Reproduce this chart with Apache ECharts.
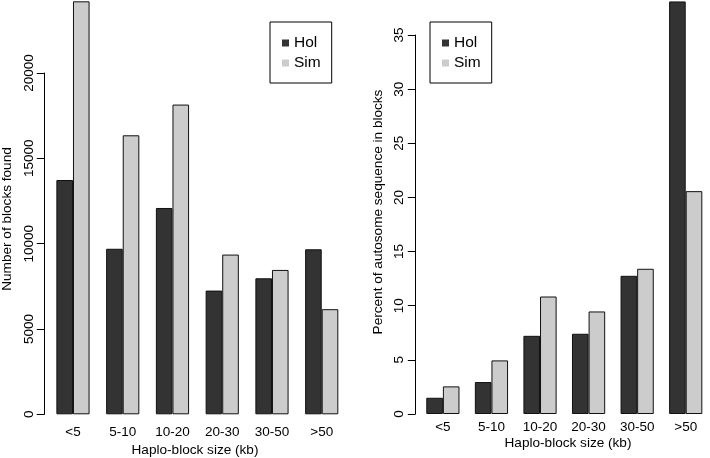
<!DOCTYPE html>
<html>
<head>
<meta charset="utf-8">
<script src="https://cdn.jsdelivr.net/npm/echarts@6/dist/echarts.min.js"></script>
<style>html,body{margin:0;padding:0;background:#fff;}#c{width:710px;height:458px;}</style>
</head>
<body>
<div id="c"></div>
<script>
var categories = ['<5', '5-10', '10-20', '20-30', '30-50', '>50'];
var holCount = [13730, 9700, 12090, 7250, 7970, 9670];
var simCount = [24200, 16350, 18150, 9360, 8460, 6160];
var holPct = [1.50, 2.95, 7.22, 7.41, 12.76, 38.1];
var simPct = [2.55, 4.95, 10.85, 9.47, 13.41, 20.58];
var countTicks = { min: 0, max: 20000, interval: 5000 };
var pctTicks = { min: 0, max: 35, interval: 5 };

var FONT = 'Liberation Sans';
var HOL = '#333333', SIM = '#cccccc', EDGE = '#111111';

function yAxisCfg(gi, ticks, offset, margin) {
  return {
    type: 'value', gridIndex: gi, min: ticks.min, max: ticks.max, interval: ticks.interval,
    offset: offset,
    axisLine: { show: true, lineStyle: { color: '#000', width: 1 } },
    axisTick: { show: true, length: 7.5, lineStyle: { color: '#000', width: 1 } },
    axisLabel: { rotate: 90, margin: margin, color: '#000', fontFamily: FONT, fontSize: 13.5,
      formatter: function (v) { return String(v); } },
    splitLine: { show: false }
  };
}
function xAxisCfg(gi, margin) {
  return {
    type: 'category', gridIndex: gi, data: categories,
    axisLine: { show: false }, axisTick: { show: false },
    axisLabel: { margin: margin, color: '#000', fontFamily: FONT, fontSize: 13.5, interval: 0 }
  };
}
function bar(name, data, color, gi) {
  return {
    name: name, type: 'bar', data: data, xAxisIndex: gi, yAxisIndex: gi,
    barWidth: 16.6, barGap: '0%', clip: false, silent: true, animation: false,
    itemStyle: { color: color, borderColor: EDGE, borderWidth: 1 }
  };
}
function legendCfg(left) {
  return {
    data: ['Hol', 'Sim'], orient: 'vertical', left: left, top: 22,
    itemWidth: 7, itemHeight: 7, itemGap: 4, itemTextGap: 11,
    padding: [13, 11, 12, 12], borderColor: '#000', borderWidth: 1,
    icon: 'rect', selectedMode: false,
    itemStyle: { borderWidth: 0 },
    textStyle: { fontFamily: FONT, fontSize: 15.5, color: '#000' }
  };
}

var chart = echarts.init(document.getElementById('c'), null, { renderer: 'canvas' });
chart.setOption({
  animation: false,
  backgroundColor: '#fff',
  grid: [
    { left: 48.1, right: 363.4, top: 73, bottom: 43.7 },
    { left: 418.6, right: -7.2, top: 35, bottom: 44 }
  ],
  xAxis: [xAxisCfg(0, 10.5), xAxisCfg(1, 6.5)],
  yAxis: [yAxisCfg(0, countTicks, 3.8, 8), yAxisCfg(1, pctTicks, 3.3, 9)],
  legend: [legendCfg(270), legendCfg(430)],
  series: [
    bar('Hol', holCount, HOL, 0),
    bar('Sim', simCount, SIM, 0),
    bar('Hol', holPct, HOL, 1),
    bar('Sim', simPct, SIM, 1)
  ],
  graphic: [
    { type: 'text', x: 7, y: 219, rotation: Math.PI / 2,
      style: { text: 'Number of blocks found', fontFamily: FONT, fontSize: 13.6, fill: '#000', textAlign: 'center', textVerticalAlign: 'middle' } },
    { type: 'text', x: 195, y: 450.5,
      style: { text: 'Haplo-block size (kb)', fontFamily: FONT, fontSize: 13.6, fill: '#000', textAlign: 'center', textVerticalAlign: 'middle' } },
    { type: 'text', x: 378, y: 212, rotation: Math.PI / 2,
      style: { text: 'Percent of autosome sequence in blocks', fontFamily: FONT, fontSize: 13.6, fill: '#000', textAlign: 'center', textVerticalAlign: 'middle' } },
    { type: 'text', x: 568, y: 443.5,
      style: { text: 'Haplo-block size (kb)', fontFamily: FONT, fontSize: 13.6, fill: '#000', textAlign: 'center', textVerticalAlign: 'middle' } }
  ]
});
</script>
</body>
</html>
